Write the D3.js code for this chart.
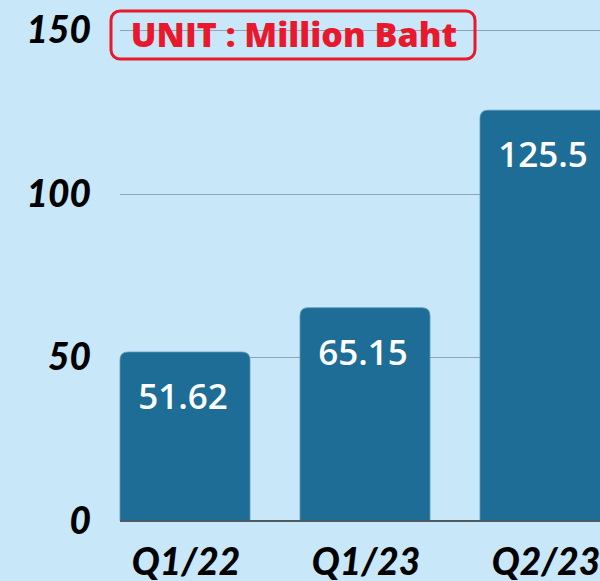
<!DOCTYPE html>
<html><head><meta charset="utf-8">
<script src="https://cdn.jsdelivr.net/npm/d3@7"></script>
<style>
html,body{margin:0;padding:0;background:#c8e7f8;overflow:hidden;}
svg{display:block;}
</style></head>
<body>
<svg id="chart" width="600" height="581"></svg>
<script>
const categories = ["Q1/22", "Q1/23", "Q2/23"];
const values = [51.62, 65.15, 125.5];
const valueLabels = ["51.62", "65.15", "125.5"];
const yTicks = [0, 50, 100, 150];
const unitText = "UNIT : Million Baht";

const W = 600, H = 581;
const svg = d3.select("#chart");
svg.append("rect").attr("width", W).attr("height", H).attr("fill", "#c8e7f8");

const y = d3.scaleLinear().domain([0, 150]).range([521, 30]);
const x = d3.scaleBand().domain(categories).range([95, 635])
  .paddingInner(50/180).paddingOuter(25/180);

// gridlines
svg.append("g").selectAll("line").data(yTicks.filter(d => d > 0)).join("line")
  .attr("x1", 120).attr("x2", W)
  .attr("y1", d => Math.round(y(d)) + 0.5).attr("y2", d => Math.round(y(d)) + 0.5)
  .attr("stroke", "#8aa6b8").attr("stroke-width", 1);

// y labels
svg.append("g").selectAll("text").data(yTicks).join("text")
  .attr("x", 91).attr("y", d => y(d) + 13)
  .attr("text-anchor", "end")
  .attr("font-family", "Lato, 'Open Sans', sans-serif")
  .attr("font-weight", 900).attr("font-style", "italic")
  .attr("font-size", 37).attr("fill", "#000")
  .text(d => d);

// bars with rounded top corners
const r = 8;
function barPath(x0, w, yTop, yBase) {
  return `M${x0},${yBase} L${x0},${yTop + r} Q${x0},${yTop} ${x0 + r},${yTop} L${x0 + w - r},${yTop} Q${x0 + w},${yTop} ${x0 + w},${yTop + r} L${x0 + w},${yBase} Z`;
}
const data = categories.map((c, i) => ({c, v: values[i], label: valueLabels[i]}));
svg.append("g").selectAll("path").data(data).join("path")
  .attr("d", d => barPath(x(d.c), x.bandwidth(), y(d.v), y(0)))
  .attr("fill", "#1d6d96")
  .attr("stroke", "#5b97b8").attr("stroke-width", 0.8);

// baseline
svg.append("line").attr("x1", 120).attr("x2", W)
  .attr("y1", y(0)).attr("y2", y(0))
  .attr("stroke", "#4d5a63").attr("stroke-width", 2);

// value labels
svg.append("g").selectAll("text").data(data).join("text")
  .attr("x", d => x(d.c) + x.bandwidth() / 2 - 2)
  .attr("y", d => y(d.v) + 57)
  .attr("text-anchor", "middle")
  .attr("font-family", "'Open Sans', sans-serif")
  .attr("font-weight", 600)
  .attr("font-size", 35).attr("fill", "#fff")
  .text(d => d.label);

// x labels
svg.append("g").selectAll("text").data(categories).join("text")
  .attr("x", d => x(d) + x.bandwidth() / 2 + 1)
  .attr("y", 575)
  .attr("text-anchor", "middle")
  .attr("font-family", "Lato, 'Open Sans', sans-serif")
  .attr("font-weight", 900).attr("font-style", "italic")
  .attr("font-size", 37).attr("fill", "#000")
  .text(d => d);

// unit box
svg.append("rect").attr("x", 111).attr("y", 11).attr("width", 364).attr("height", 48)
  .attr("rx", 9).attr("fill", "none")
  .attr("stroke", "#e8192c").attr("stroke-width", 3);
svg.append("text").attr("x", 294).attr("y", 47)
  .attr("text-anchor", "middle")
  .attr("font-family", "'Open Sans', sans-serif")
  .attr("font-weight", 800).attr("font-size", 34)
  .attr("fill", "#e8192c")
  .text(unitText);
</script>
</body></html>
